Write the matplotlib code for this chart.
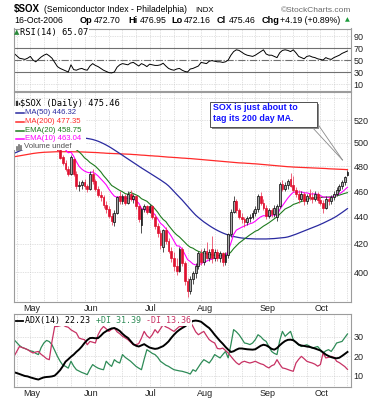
import numpy as np
import pandas as pd
import matplotlib
matplotlib.use("Agg")
import matplotlib.pyplot as plt
from matplotlib.patches import Rectangle
from matplotlib.lines import Line2D
from matplotlib.ticker import NullLocator

plt.rcParams["font.family"] = ["Liberation Sans", "DejaVu Sans"]

# trading days on the chart: 21-Apr-2006 .. 16-Oct-2006
holidays = pd.to_datetime(["2006-05-29", "2006-07-04", "2006-09-04"])
dates = pd.bdate_range("2006-04-21", "2006-10-16")
dates = dates[~dates.isin(holidays)]

# daily $SOX prices
opens = [500, 502, 499, 498, 502, 499, 504, 508, 505, 510,
         512, 507, 512, 515, 509, 503, 498, 494, 488, 483,
         478, 474, 486, 474, 464, 465, 467, 464, 462, 474,
         468, 462, 457, 455, 449, 446, 441, 436, 443, 456,
         452, 456, 451, 458, 454, 456, 448, 434, 446, 448,
         444, 448, 440, 433, 428, 418, 430, 422, 415, 410,
         404, 401, 416, 406, 394, 387, 395, 399, 404, 413,
         407, 415, 410, 416, 410, 414, 410, 413, 407, 412,
         427, 444, 452, 445, 440, 438, 436, 439, 440, 443,
         446, 456, 451, 447, 441, 445, 442, 440, 448, 466,
         462, 465, 470, 465, 461, 458, 454, 458, 452, 458,
         455, 454, 458, 453, 451, 447, 454, 452, 455, 458,
         461, 464, 467, 472.70]
highs = [504, 505, 501, 503, 504, 505, 509, 510, 511, 514,
         515, 513, 517, 516, 510, 505, 500, 495, 490, 485,
         480, 490, 487, 476, 468, 469, 470, 466, 476, 478,
         470, 464, 460, 457, 452, 448, 443, 445, 456, 460,
         458, 458, 460, 461, 458, 457, 449, 447, 450, 449,
         450, 449, 442, 435, 430, 431, 432, 424, 418, 414,
         410, 418, 418, 408, 396, 397, 401, 406, 415, 416,
         417, 421, 416, 426, 416, 416, 415, 414, 414, 428,
         446, 456, 454, 447, 443, 440, 441, 442, 445, 448,
         458, 459, 454, 449, 447, 447, 449, 450, 467, 469,
         467, 470, 475, 472, 463, 461, 460, 459, 458, 462,
         459, 460, 459, 456, 453, 456, 455, 457, 460, 463,
         466, 469, 472, 476.95]
lows = [497, 498, 496, 497, 497, 498, 503, 503, 504, 508,
        506, 506, 510, 508, 501, 497, 493, 486, 481, 476,
        472, 473, 472, 462, 460, 462, 462, 459, 461, 466,
        460, 455, 452, 447, 443, 439, 434, 433, 442, 450,
        450, 449, 450, 452, 451, 446, 436, 428, 444, 442,
        443, 438, 431, 425, 416, 414, 420, 413, 407, 401,
        398, 400, 404, 391, 383, 385, 392, 396, 402, 405,
        405, 409, 408, 406, 408, 408, 407, 404, 405, 410,
        425, 443, 443, 438, 435, 432, 434, 436, 438, 441,
        444, 449, 445, 438, 439, 440, 440, 437, 447, 460,
        460, 462, 463, 459, 455, 451, 452, 449, 450, 453,
        451, 452, 451, 449, 443, 446, 449, 450, 453, 456,
        459, 462, 465, 472.16]
closes = [502, 499, 498, 502, 499, 504, 508, 505, 510, 512,
          507, 512, 515, 509, 503, 498, 494, 487, 483, 478,
          474, 488, 474, 464, 465, 467, 464, 462, 474, 468,
          462, 457, 455, 449, 446, 441, 437, 443, 455, 452,
          456, 451, 458, 454, 456, 448, 438, 446, 448, 444,
          448, 440, 433, 428, 419, 430, 422, 415, 410, 404,
          401, 416, 406, 394, 387, 395, 399, 404, 413, 407,
          415, 410, 414, 410, 414, 410, 413, 407, 412, 427,
          444, 452, 445, 440, 438, 436, 439, 440, 443, 446,
          456, 451, 447, 441, 445, 442, 447, 448, 466, 462,
          465, 468, 464, 461, 458, 454, 458, 452, 456, 455,
          454, 458, 453, 451, 447, 454, 452, 455, 458, 461,
          464, 467, 471.27, 475.46]

ma50 = [491, 492, 493, 494, 495, 496, 497, 498, 499, 500,
        500.5, 501, 501.5, 502, 502.5, 503, 503.5, 504, 504.3, 504.5,
        504.6, 504.7, 504.7, 504.6, 504.5, 504.3, 504.1, 503.8, 503.4, 502.9,
        502.2, 501.4, 500.4, 499.3, 498.1, 496.8, 495.4, 493.9, 492.4, 490.9,
        489.4, 487.8, 486.3, 484.8, 483.3, 481.8, 480.3, 478.8, 477.4, 476.0,
        474.6, 473.2, 471.8, 470.4, 469.0, 467.5, 466.0, 464.2, 462.0, 459.7,
        457.4, 455.2, 453.0, 450.6, 448.2, 445.8, 443.5, 441.3, 439.5, 437.8,
        436.2, 434.8, 433.4, 432.1, 430.9, 429.8, 428.8, 427.9, 427.1, 426.4,
        425.8, 425.3, 424.9, 424.5, 424.2, 424.0, 423.8, 423.7, 423.6, 423.5,
        423.5, 423.5, 423.5, 423.5, 423.6, 423.7, 423.8, 424.0, 424.2, 424.4,
        424.6, 425.0, 425.6, 426.3, 427.0, 427.8, 428.6, 429.4, 430.2, 431.0,
        431.8, 432.6, 433.4, 434.3, 435.2, 436.2, 437.2, 438.2, 439.3, 440.5,
        441.9, 443.3, 444.8, 446.32]
ma200 = [488.1, 488.5, 488.9, 489.3, 489.7, 490.1, 490.5, 490.9, 491.2, 491.5,
         491.7, 491.9, 492.0, 492.1, 492.2, 492.3, 492.4, 492.4, 492.4, 492.4,
         492.4, 492.4, 492.3, 492.3, 492.2, 492.2, 492.1, 492.0, 491.9, 491.8,
         491.7, 491.6, 491.4, 491.3, 491.1, 491.0, 490.9, 490.8, 490.7, 490.6,
         490.5, 490.4, 490.3, 490.2, 490.0, 489.9, 489.7, 489.5, 489.4, 489.2,
         489.0, 488.9, 488.7, 488.6, 488.4, 488.2, 488.0, 487.8, 487.7, 487.5,
         487.4, 487.2, 487.0, 486.9, 486.7, 486.6, 486.4, 486.2, 486.0, 485.8,
         485.6, 485.4, 485.2, 485.0, 484.8, 484.6, 484.4, 484.2, 484.0, 483.8,
         483.6, 483.4, 483.2, 483.0, 482.9, 482.8, 482.6, 482.5, 482.3, 482.2,
         482.0, 481.8, 481.6, 481.4, 481.2, 481.0, 480.8, 480.6, 480.4, 480.2,
         480.0, 479.8, 479.7, 479.5, 479.4, 479.3, 479.2, 479.1, 479.0, 478.9,
         478.8, 478.7, 478.6, 478.5, 478.4, 478.3, 478.1, 478.0, 477.9, 477.8,
         477.7, 477.6, 477.5, 477.35]
ema20 = [497, 497.5, 498, 498.3, 498.5, 498.8, 499.2, 499.5, 500, 500.5,
         501, 501.5, 502, 502.5, 502.8, 502.5, 501.8, 501, 500, 499,
         497.8, 496.8, 495.2, 494, 492.3, 490, 487.2, 485.5, 483.3, 481.8,
         480.2, 478, 475.6, 472.5, 470, 467.3, 464.5, 463.2, 461.8, 460.5,
         459.5, 458, 457.5, 459, 458, 457, 456, 454, 453, 452,
         450, 448.3, 446, 443.5, 440.5, 438, 436.4, 433.5, 431, 428.5,
         426.5, 425, 423, 421, 419, 417.5, 416.8, 415.5, 414.5, 413.8,
         413.2, 412.8, 412.3, 412, 411.8, 411.6, 411.6, 411.8, 412, 412.2,
         414, 416.5, 418.5, 420.5, 422, 423.5, 425, 426.5, 427.8, 429.2,
         430, 431.5, 433, 434.2, 435.5, 437, 438.5, 440, 442, 444,
         446, 447, 448, 449.5, 450.2, 451, 451.8, 452.5, 453.5, 454,
         454.3, 454.6, 454.8, 455, 455.1, 455.2, 455.3, 455.5, 456, 456.3,
         456.8, 457.5, 458.2, 458.75]
ema10 = [498, 497.5, 497, 497, 496.5, 497, 498, 498.5, 500, 501.5,
         502, 503.5, 505, 506, 505.5, 503.5, 501.5, 499, 496.5, 494,
         491.5, 492, 488.5, 484, 480.1, 477.8, 476.2, 475.2, 474.8, 475.5,
         474, 472.2, 469.8, 467.5, 465, 461.5, 458.5, 456, 455.2, 455.5,
         455, 454.3, 454.2, 454, 453.6, 452.5, 450.5, 446.5, 445.5, 445,
         445.5, 443.9, 441.5, 438.5, 435.2, 433.5, 431.1, 428.5, 425.5, 422,
         418.5, 418.3, 416.2, 412.5, 408.7, 407.3, 405.6, 404.9, 405.4, 405.6,
         407, 407.5, 408.5, 408.9, 409.8, 410, 410.7, 410.5, 411, 415,
         420.5, 426.8, 430, 431.1, 432.2, 433.1, 434, 434.8, 435.4, 436.7,
         438.5, 440, 440.9, 440.7, 441, 440.9, 441.6, 440.9, 445.5, 448.5,
         451.5, 454.5, 457, 459.1, 459.3, 459.3, 459.4, 458.6, 458.6, 458,
         457.6, 457.9, 457.4, 456.5, 455.3, 455.3, 455, 455.2, 456, 457,
         457.8, 459.2, 461.1, 463.04]

rsi = [61, 57, 53, 52, 51, 53, 56, 50, 47, 51,
       55, 58, 60, 57, 53, 46, 39, 36, 34, 32,
       30, 42, 34, 33, 35, 36, 34, 33, 40, 44,
       41, 39, 36, 33, 31, 29, 28.5, 30, 38, 42,
       44, 43, 42, 45, 46, 43, 40, 44, 42, 39,
       43, 42, 41, 41, 42, 44.6, 40, 36, 34, 33,
       35, 36, 33, 31, 30, 35, 36, 38, 40, 46,
       45, 44, 48, 49, 48, 47, 47, 46, 47, 50,
       58, 64, 67, 66, 63, 60, 58, 57, 56, 58,
       61, 64, 67, 60, 58, 58, 56, 54, 62, 66,
       67, 66, 64, 67, 62, 56, 54, 52, 56, 57,
       55, 54, 52, 51, 50, 54, 52, 51, 54, 56,
       58, 61, 63, 65.07]

adx = [11.9, 11.5, 11.0, 10.5, 10.0, 9.8, 9.3, 8.9, 8.5, 8.2,
       8.8, 9.3, 9.5, 9.6, 9.8, 10.2, 11.5, 13.0, 15.0, 17.3,
       18.5, 19.8, 20.9, 22.3, 23.5, 25.0, 26.8, 28.3, 29.3, 29.4,
       29.2, 29.3, 30.5, 31.9, 32.8, 33.6, 34.2, 34.4, 33.8, 32.9,
       31.5, 30.3, 29.4, 27.8, 26.2, 25.4, 25.0, 25.6, 26.2, 25.3,
       24.5, 24.1, 23.8, 24.0, 24.6, 25.2, 26.3, 27.6, 29.4, 31.0,
       32.4, 33.5, 34.4, 35.2, 36.2, 37.2, 38.0, 38.2, 38.0, 37.6,
       36.5, 35.4, 34.4, 32.8, 31.0, 29.4, 27.8, 26.4, 24.8, 23.4,
       22.2, 22.6, 23.4, 24.0, 24.0, 23.8, 23.6, 23.5, 23.4, 23.6,
       24.5, 25.4, 25.9, 25.6, 24.8, 23.8, 23.4, 24.2, 25.6, 26.8,
       27.8, 28.4, 28.5, 28.2, 27.2, 26.0, 25.5, 25.3, 25.0, 24.8,
       24.4, 24.0, 23.5, 23.0, 22.0, 20.9, 20.2, 19.6, 19.2, 19.0,
       19.3, 20.2, 21.2, 22.23]
plus_di = [28.5, 27, 25.5, 24.5, 24.0, 23.4, 22.8, 22.5, 21.5, 20.9,
           24.5, 26.8, 28.1, 27.5, 25.9, 23.0, 20.0, 17.5, 15.5, 14.9,
           14.0, 17.5, 15.0, 13.2, 12.5, 11.8, 11.3, 10.7, 13.5, 15.8,
           14.8, 14.0, 13.5, 13.2, 17.5, 16.0, 14.9, 18.3, 17.2, 16.6,
           20.9, 19.5, 18.5, 17.5, 16.2, 14.9, 14.0, 13.2, 18.5, 23.4,
           22.5, 21.5, 20.9, 19.5, 17.5, 16.5, 15.5, 14.9, 14.0, 13.2,
           12.9, 12.6, 12.4, 12.0, 11.6, 11.0, 13.2, 12.4, 14.5, 16.6,
           18.3, 17.5, 16.6, 18.5, 20.9, 20.0, 19.2, 20.9, 22.5, 19.2,
           26.0, 33.6, 32.5, 31.0, 29.0, 26.8, 26.5, 26.0, 26.8, 28.5,
           31.0, 30.0, 28.5, 27.6, 25.0, 22.5, 21.5, 20.9, 28.0, 32.7,
           30.2, 31.5, 32.7, 28.5, 27.0, 25.8, 25.0, 25.5, 25.9, 25.2,
           24.2, 24.6, 25.0, 23.4, 21.7, 22.8, 23.4, 22.5, 24.5, 26.8,
           27.2, 27.6, 29.5, 31.39]
minus_di = [20.0, 22.5, 25.0, 24.5, 24.0, 23.4, 22.5, 21.7, 22.2, 22.5,
            21.0, 20.0, 18.8, 18.3, 27.6, 35.2, 35.2, 35.6, 36.0, 35.2,
            34.8, 33.5, 32.7, 31.9, 29.3, 28.8, 28.5, 25.9, 27.6, 27.2,
            26.8, 31.0, 33.6, 35.2, 34.0, 32.7, 33.8, 34.4, 32.5, 31.5,
            30.2, 29.4, 28.5, 27.2, 25.9, 25.9, 26.5, 29.3, 32.7, 30.5,
            29.3, 31.0, 33.6, 31.9, 34.0, 36.1, 35.0, 34.4, 33.5, 32.7,
            34.0, 35.2, 35.2, 35.6, 36.0, 37.8, 35.2, 32.5, 31.0, 31.9,
            32.7, 30.5, 28.5, 27.5, 26.8, 24.0, 23.8, 24.2, 23.0, 21.7,
            20.0, 18.3, 16.8, 15.8, 17.0, 17.5, 17.0, 16.6, 17.0, 17.5,
            16.8, 16.2, 15.8, 14.8, 14.1, 15.2, 15.8, 18.3, 16.0, 14.1,
            13.8, 13.3, 12.8, 12.4, 16.6, 18.5, 20.0, 18.8, 17.5, 17.0,
            16.6, 16.0, 15.0, 15.8, 21.7, 19.2, 19.5, 20.0, 19.5, 17.5,
            16.8, 15.8, 14.8, 13.36]

W, H = 382, 400
n = len(dates)
x = np.arange(n)
LEFT, RIGHT = 13.5, 351

fig = plt.figure(figsize=(W / 100, H / 100), dpi=100)
fig.patch.set_facecolor("white")


def fx(px):
    return px / W


def fy(py):
    return 1 - py / H


def panel(top, bottom):
    return fig.add_axes([fx(LEFT), fy(bottom), (RIGHT - LEFT) / W, (bottom - top) / H])


week_idx = [i for i in range(n) if i == 0 or dates[i].weekday() < dates[i - 1].weekday()]
month_idx = [i for i in range(1, n) if dates[i].month != dates[i - 1].month]


def style(a):
    for s in a.spines.values():
        s.set_color("#9c9c9c")
        s.set_linewidth(0.8)
    a.set_xlim(-0.2, n + 0.3)
    a.set_xticks(week_idx)
    a.tick_params(axis="x", length=0, labelbottom=False)
    a.yaxis.tick_right()
    a.tick_params(axis="y", length=0, labelsize=6.5, pad=2, labelcolor="#222222")
    a.grid(True, color="#c4c4c4", lw=0.5, ls=(0, (1, 1.5)))
    a.set_axisbelow(True)


ax_rsi = panel(28.5, 90.5)
ax = panel(92, 302)
ax_adx = panel(314, 387)
for a in (ax_rsi, ax, ax_adx):
    style(a)

# ---- RSI panel
ax_rsi.set_ylim(-0.8, 102.5)
ax_rsi.set_yticks([10, 30, 50, 70, 90])
ax_rsi.axhline(70, color="#707070", lw=0.8)
ax_rsi.axhline(30, color="#707070", lw=0.8)
ax_rsi.axhline(50, color="#707070", lw=0.8, ls="-.")
ax_rsi.plot(x, rsi, color="black", lw=0.7)

# ---- price panel
ax.set_yscale("log")
ax.set_ylim(379.8, 545.9)
ticks = list(range(380, 541, 20))
ax.set_yticks(ticks)
ax.set_yticklabels(["" if t in (380, 540) else str(t) for t in ticks])
ax.yaxis.set_minor_locator(NullLocator())

ax.plot(x, ma200, color="#ff2a2a", lw=0.9, zorder=2)
ax.plot(x, ma50, color="#2a2aa0", lw=0.9, zorder=2)
ax.plot(x, ema20, color="#1e7b1e", lw=0.8, zorder=2)
ax.plot(x, ema10, color="#ff00ff", lw=0.8, zorder=2)

for i in range(n):
    o, h, l, c = opens[i], highs[i], lows[i], closes[i]
    prev = closes[i - 1] if i else c
    if c >= prev:
        edge, wick = "black", "#333333"
        face = "#a8a8a8" if c > o else "#303030"
    else:
        edge, wick = "#e0102f", "#ea4a66"
        face = "#f5a0b0" if c > o else "#e0102f"
    ax.vlines(i, l, h, color=wick, lw=0.6, zorder=3)
    lo_b, hi_b = min(o, c), max(o, c)
    if hi_b - lo_b < 0.6:
        hi_b = lo_b + 0.6
    ax.add_patch(Rectangle((i - 0.33, lo_b), 0.66, hi_b - lo_b, facecolor=face,
                           edgecolor=edge, lw=0.5, zorder=4))

# legend block hides what lies under it
fig.patches.append(Rectangle((fx(LEFT + 0.5), fy(149.5)), fx(86) - fx(LEFT + 0.5),
                             fy(106) - fy(149.5), transform=fig.transFigure,
                             facecolor="white", edgecolor="none", zorder=5))

# ---- ADX panel
ax_adx.set_ylim(4.4, 41.55)
ax_adx.set_yticks([10, 20, 30])
ax_adx.plot(x, plus_di, color="#2e8b57", lw=0.9)
ax_adx.plot(x, minus_di, color="#c83264", lw=0.9)
ax_adx.plot(x, adx, color="black", lw=1.4)

# month labels under price and ADX panels
for i in month_idx:
    px = LEFT + (i + 0.2) * (RIGHT - LEFT) / (n + 0.5) + 1.5
    for py in (308.5, 393.5):
        fig.text(fx(px), fy(py), dates[i].strftime("%b"), ha="center", va="center",
                 fontsize=6.5, color="#222222")

# ---- header
fig.text(fx(14), fy(12), "$SOX", fontsize=7, fontweight="bold", va="baseline")
fig.text(fx(44), fy(12), "(Semiconductor Index - Philadelphia)", fontsize=6.2, va="baseline")
fig.text(fx(195), fy(12), "INDX", fontsize=5.6, va="baseline")
fig.text(fx(351), fy(12), "\u00a9StockCharts.com", fontsize=6, color="#6a6a6a",
         ha="right", va="baseline")
fig.text(fx(14), fy(23), "16-Oct-2006", fontsize=6.3, va="baseline")
for px, label, value, off in [(80, "Op", "472.70", 14), (128, "Hi", "476.95", 11.5),
                              (171, "Lo", "472.16", 13), (217, "Cl", "475.46", 12),
                              (262, "Chg", "+4.19 (+0.89%)", 17.5)]:
    fig.text(fx(px), fy(23), label, fontsize=6.6, fontweight="bold", va="baseline")
    fig.text(fx(px + off), fy(23), value, fontsize=6.3, va="baseline")
fig.text(fx(347.5), fy(20), "\u25b2", fontsize=4.5, color="#1a9a3a", ha="center", va="center",
         family="DejaVu Sans")

MONO = "DejaVu Sans Mono"
# RSI label
fig.text(fx(16.5), fy(32.5), "\u25b2", fontsize=5, color="#2a8a3a", ha="center", va="center",
         family="DejaVu Sans")
fig.text(fx(20), fy(32.5), "RSI(14) 65.07", fontsize=6.3, family=MONO, va="center",
         bbox=dict(facecolor="white", edgecolor="none", pad=0.3))

# price legend
for k in range(3):
    fig.add_artist(Line2D([fx(15.5 + 1.6 * k)] * 2, [fy(100.5 + k), fy(105.5 - k)],
                          color="#333333", lw=0.9))
fig.text(fx(20), fy(103), "$SOX (Daily) 475.46", fontsize=6.3, family=MONO, va="center", zorder=6)
legend_rows = [("MA(50) 446.32", "#2a2aa0", 112.5), ("MA(200) 477.35", "#ff2a2a", 121.5),
               ("EMA(20) 458.75", "#1e7b1e", 130.5), ("EMA(10) 463.04", "#ff00ff", 139)]
for label, col, py in legend_rows:
    fig.add_artist(Line2D([fx(16), fx(23.5)], [fy(py), fy(py)], color=col, lw=1.1, zorder=6))
    fig.text(fx(25), fy(py), label, fontsize=5.6, color=col, va="center", zorder=6)
for k, hgt in enumerate([3, 5, 4]):
    fig.add_artist(Line2D([fx(16.5 + 2 * k)] * 2, [fy(149.5), fy(149.5 - hgt)],
                          color="#707070", lw=1.2, zorder=6))
fig.text(fx(23.5), fy(147), "Volume undef", fontsize=5.6, color="#505050", va="center", zorder=6)

# callout box
fig.patches.append(Rectangle((fx(212), fy(129)), fx(107), fy(0) - fy(25), transform=fig.transFigure,
                             facecolor="#8a8a8a", edgecolor="none", zorder=7))
fig.patches.append(Rectangle((fx(210), fy(127)), fx(107), fy(0) - fy(25), transform=fig.transFigure,
                             facecolor="white", edgecolor="#505050", lw=0.7, zorder=8))
fig.add_artist(Line2D([fx(312), fx(342.5)], [fy(127), fy(160)], color="#8a8a8a", lw=0.6, zorder=7))
fig.add_artist(Line2D([fx(317), fx(342.5)], [fy(123), fy(160)], color="#8a8a8a", lw=0.6, zorder=7))
fig.text(fx(213), fy(107.5), "SOX is just about to", fontsize=6.4, fontweight="bold",
         color="#1414ff", va="center", zorder=9)
fig.text(fx(213), fy(118.5), "tag its 200 day MA.", fontsize=6.4, fontweight="bold",
         color="#1414ff", va="center", zorder=9)

# ADX label
fig.add_artist(Line2D([fx(16), fx(23)], [fy(320.5), fy(320.5)], color="black", lw=1.3))
cw = 5.06
for off, seg, col in [(0, "ADX(14) 22.23", "black"), (14, "+DI 31.39", "#2e8b57"),
                      (24, "-DI 13.36", "#c83264")]:
    fig.text(fx(25 + off * cw), fy(320.5), seg, fontsize=6, family=MONO, color=col, va="center",
             bbox=dict(facecolor="white", edgecolor="none", pad=0.6))

fig.savefig("out.png", dpi=100, facecolor="white")
